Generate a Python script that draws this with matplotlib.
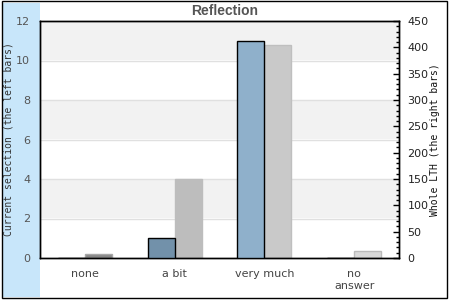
import matplotlib
matplotlib.use("Agg")
import matplotlib.pyplot as plt
from matplotlib.patches import Rectangle
import numpy as np

categories = ["none", "a bit", "very much", "no\nanswer"]
current_values = [0, 1, 11, 0]
whole_values = [7, 150, 404, 14]
current_colors = ["#7291AA", "#7291AA", "#8FB0CB", "#8FB0CB"]
whole_colors = ["#888888", "#BDBDBD", "#C9C9C9", "#D9D9D9"]
whole_edges = ["#A8A8A8", "#BDBDBD", "#BFBFBF", "#BBBBBB"]
left_ticks = [0, 2, 4, 6, 8, 10, 12]
right_ticks = [0, 50, 100, 150, 200, 250, 300, 350, 400, 450]

W, H = 450, 300
fig = plt.figure(figsize=(4.5, 3.0), dpi=100)

def px(x0, y0, x1, y1):
    return [x0 / W, 1 - y1 / H, (x1 - x0) / W, (y1 - y0) / H]

# blue band and outer frame
fig.patches.append(Rectangle((3 / W, 1 - 297 / H), 37 / W, 294 / H,
                             transform=fig.transFigure, facecolor="#C8E6FA",
                             edgecolor="none", zorder=0))
fig.patches.append(Rectangle((1.5 / W, 1 - 298 / H), 445.5 / W, 297.5 / H,
                             transform=fig.transFigure, facecolor="none",
                             edgecolor="black", linewidth=1.0, zorder=1))

ax = fig.add_axes(px(40, 21, 399, 258))
ax.set_xlim(-0.5, 3.5)
ax.set_ylim(0, 12)
ax2 = ax.twinx()
ax2.set_ylim(0, 450)

# lower axes (ax2) holds background bands, grid and right bars
ax.set_zorder(2)
ax2.set_zorder(1)
ax.patch.set_visible(False)
ax2.patch.set_facecolor("white")

band_tr = ax.transData
for lo in [2, 6, 10]:
    ax2.add_patch(Rectangle((-0.5, lo), 4, 2, transform=band_tr,
                            facecolor="#F2F2F2", edgecolor="none", zorder=0))
for y in [2, 4, 6, 8, 10]:
    ax2.plot([-0.5, 3.5], [y, y], transform=band_tr, color="#E0E0E0",
             linewidth=1.0, zorder=0.5)

x = np.arange(len(categories))
bw = 0.30
ax2.bar(x + bw / 2, whole_values, width=bw, color=whole_colors,
        edgecolor=whole_edges, linewidth=1.0, zorder=2)
ax.bar(x - bw / 2, current_values, width=bw, color=current_colors,
       edgecolor="black", linewidth=1.0, zorder=3)
ax2.set_xlim(-0.5, 3.5)

for a in (ax, ax2):
    for s in a.spines.values():
        s.set_color("black")
        s.set_linewidth(1.0)

ax.set_yticks(left_ticks)
ax.tick_params(axis="y", length=0, pad=7, labelsize=8, labelcolor="#555555")
ax.set_xticks(x)
ax.set_xticklabels(categories, fontsize=8, color="#444444", linespacing=1.2)
ax.tick_params(axis="x", length=0, pad=8)

ax2.set_yticks(right_ticks)
ax2.set_yticks(np.arange(0, 451, 10), minor=True)
ax2.tick_params(axis="y", which="major", direction="in", length=4, width=1,
                pad=6, labelsize=8, labelcolor="#222222")
ax2.tick_params(axis="y", which="minor", direction="in", length=2, width=1)

ax.set_ylabel("Current selection (the left bars)", family="DejaVu Sans Mono",
              fontsize=7, color="#333333", va="center")
ax.yaxis.set_label_coords(-31 / 359, 0.5)
ax2.set_ylabel("Whole LTH (the right bars)", family="DejaVu Sans Mono",
               fontsize=7, color="#111111", va="center", rotation=90)
ax2.yaxis.set_label_coords(1 + 36 / 359, 0.5)

fig.text(225 / W, 1 - 11 / H, "Reflection", ha="center", va="center",
         fontsize=10, fontweight="bold", color="#555555",
         family="Liberation Sans")

fig.savefig("out.png", dpi=100)
